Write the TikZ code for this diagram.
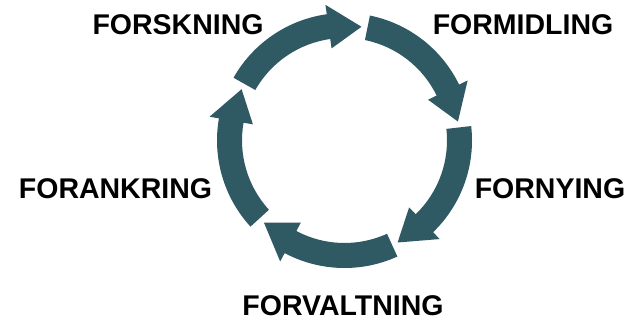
\documentclass[tikz,border=0pt]{standalone}
\usepackage{fontspec}
\setmainfont{Liberation Sans}
\definecolor{cyclecol}{RGB}{47,89,99}
\begin{document}
\begin{tikzpicture}[x=1pt,y=1pt]
\useasboundingbox (0,0) rectangle (628,322);
\tikzset{
  lbl/.style={font=\bfseries\fontsize{28.5}{30}\selectfont, inner sep=0pt, text=black},
  seg/.style={fill=cyclecol, draw=none}
}
\begin{scope}[shift={(344.5,181.5)}]
\foreach \s in {150.5,78.5,6.5,-65.5,-137.5} {
  \pgfmathsetmacro\t{\s-69}
  \pgfmathsetmacro\b{\t+16.5}
  \fill[seg] (\s:127.5pt) arc[start angle=\s, end angle=\b, radius=127.5pt]
     -- (\b:137pt) -- (\t:115pt) -- (\b:93pt) -- (\b:102.5pt)
     arc[start angle=\b, end angle=\s, radius=102.5pt] -- cycle;
}
\end{scope}
\node[lbl] (forskning) at (178,297) {FORSKNING};
\node[lbl] (formidling) at (523,297) {FORMIDLING};
\node[lbl] (fornying) at (550,133) {FORNYING};
\node[lbl] (forvaltning) at (343,16) {FORVALTNING};
\node[lbl] (forankring) at (115.5,133) {FORANKRING};
\end{tikzpicture}
\end{document}
